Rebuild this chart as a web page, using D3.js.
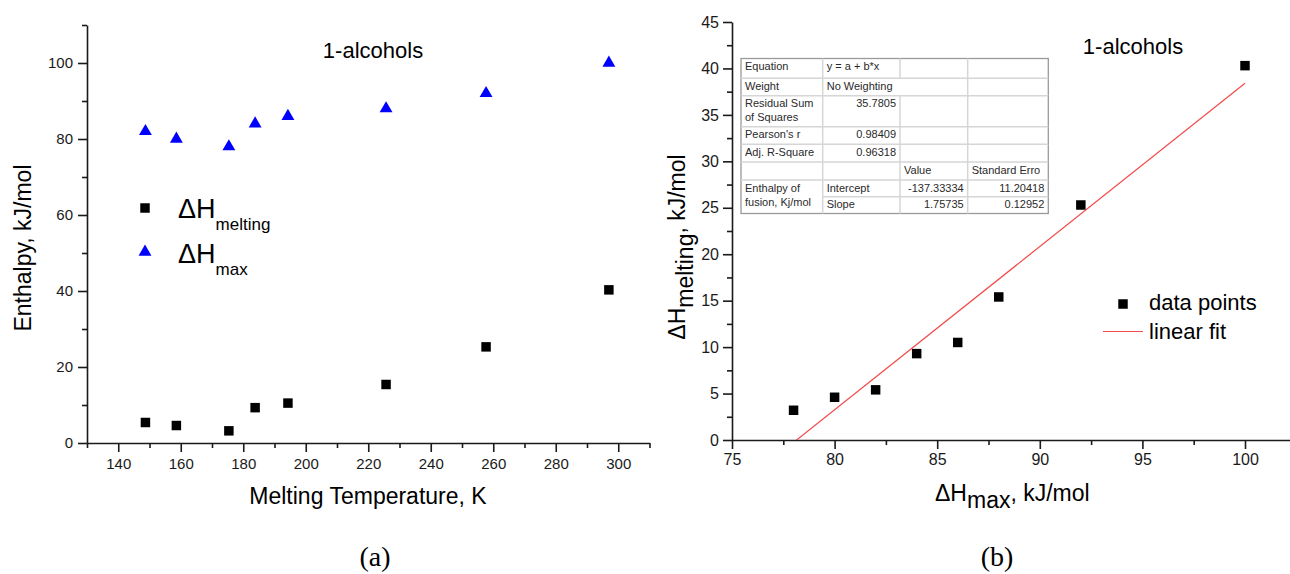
<!DOCTYPE html>
<html>
<head>
<meta charset="utf-8">
<script src="https://cdn.jsdelivr.net/npm/d3@7.9.0/dist/d3.min.js"></script>
<style>
  body { margin: 0; background: #fff; }
  svg { display: block; font-family: "Liberation Sans", Arial, sans-serif; }
</style>
</head>
<body>
<svg id="chart" width="1290" height="574"></svg>
<script>
// values
const meltingTemp = [148.7, 158.6, 175.4, 183.8, 194.3, 225.7, 257.7, 297.0];
const hMelting = [5.4, 4.6, 3.2, 9.3, 10.5, 15.4, 25.3, 40.3];
const hMax = [82, 80, 78, 84, 86, 88, 92, 100];

const leftXTicks = [140, 160, 180, 200, 220, 240, 260, 280, 300];
const leftXMinor = [130, 150, 170, 190, 210, 230, 250, 270, 290, 310];
const leftYTicks = [0, 20, 40, 60, 80, 100];
const leftYMinor = [10, 30, 50, 70, 90, 110];

const rightXTicks = [75, 80, 85, 90, 95, 100];
const rightXMinor = [77.5, 82.5, 87.5, 92.5, 97.5];
const rightYTicks = [0, 5, 10, 15, 20, 25, 30, 35, 40, 45];
const rightYMinor = [2.5, 7.5, 12.5, 17.5, 22.5, 27.5, 32.5, 37.5, 42.5];

const fitIntercept = -137.33334;
const fitSlope = 1.75735;

const tableRows = [
  ['Equation', 'y = a + b*x', '', ''],
  ['Weight', 'No Weighting', '', ''],
  ['Residual Sum\nof Squares', '35.7805', '', ''],
  ["Pearson's r", '0.98409', '', ''],
  ['Adj. R-Square', '0.96318', '', ''],
  ['', '', 'Value', 'Standard Erro'],
  ['Enthalpy of\nfusion, Kj/mol', 'Intercept', '-137.33334', '11.20418'],
  ['', 'Slope', '1.75735', '0.12952']
];

const svg = d3.select('#chart');

function drawAxes(g, x, y, xt, xm, yt, ym, fontSize, padX, padY) {
  const y0 = y.range()[0];
  const x0 = x.range()[0];
  g.append('g').attr('transform', `translate(0,${y0})`)
    .call(d3.axisBottom(x).tickValues(xt).tickSize(9).tickSizeOuter(0).tickPadding(padX));
  g.append('g').attr('transform', `translate(0,${y0})`)
    .call(d3.axisBottom(x).tickValues(xm).tickSize(5).tickSizeOuter(0).tickFormat(''))
    .select('.domain').remove();
  g.append('g').attr('transform', `translate(${x0},0)`)
    .call(d3.axisLeft(y).tickValues(yt).tickSize(9).tickSizeOuter(0).tickPadding(padY));
  g.append('g').attr('transform', `translate(${x0},0)`)
    .call(d3.axisLeft(y).tickValues(ym).tickSize(5).tickSizeOuter(0).tickFormat(''))
    .select('.domain').remove();
  g.selectAll('.domain, .tick line').attr('stroke', '#1a1a1a').attr('stroke-width', 1.6);
  g.selectAll('.tick text').attr('font-size', fontSize).attr('fill', '#1a1a1a')
    .attr('font-family', '"Liberation Sans", Arial, sans-serif');
}

// ---------- (a) ----------
const xA = d3.scaleLinear().domain([130, 310]).range([87, 649.5]);
const yA = d3.scaleLinear().domain([0, 110]).range([443, 25]);
const gA = svg.append('g');
drawAxes(gA, xA, yA, leftXTicks, leftXMinor, leftYTicks, leftYMinor, 15, 6, 5);

const square = d3.symbol(d3.symbolSquare, 90);
const triangle = d3.symbol(d3.symbolTriangle, 72);

gA.append('g').selectAll('path').data(meltingTemp).join('path')
  .attr('d', square)
  .attr('transform', (d, i) => `translate(${xA(d)},${yA(hMelting[i])})`)
  .attr('fill', '#000');
gA.append('g').selectAll('path').data(meltingTemp).join('path')
  .attr('d', triangle)
  .attr('transform', (d, i) => `translate(${xA(d)},${yA(hMax[i])})`)
  .attr('fill', '#0000ff');

gA.append('text').attr('x', 373).attr('y', 58).attr('text-anchor', 'middle')
  .attr('font-size', 22).text('1-alcohols');

// legend (a)
gA.append('path').attr('d', square).attr('transform', 'translate(145,208)');
const lgA1 = gA.append('text').attr('x', 178).attr('y', 218).attr('font-size', 27);
lgA1.append('tspan').text('ΔH');
lgA1.append('tspan').attr('font-size', 17).attr('dy', 12).text('melting');
gA.append('path').attr('d', triangle).attr('fill', '#0000ff').attr('transform', 'translate(145,252)');
const lgA2 = gA.append('text').attr('x', 178).attr('y', 263).attr('font-size', 27);
lgA2.append('tspan').text('ΔH');
lgA2.append('tspan').attr('font-size', 17).attr('dy', 12).text('max');

gA.append('text').attr('x', 368).attr('y', 504).attr('text-anchor', 'middle')
  .attr('font-size', 23).text('Melting Temperature, K');
gA.append('text').attr('transform', 'translate(31,248) rotate(-90)').attr('text-anchor', 'middle')
  .attr('font-size', 23).text('Enthalpy, kJ/mol');
gA.append('text').attr('x', 375).attr('y', 566).attr('text-anchor', 'middle')
  .attr('font-family', '"Liberation Serif", "Times New Roman", serif').attr('font-size', 28).text('(a)');

// ---------- (b) ----------
const xB = d3.scaleLinear().domain([75, 105]).range([732, 732 + 30 * 20.52]);
const yB = d3.scaleLinear().domain([0, 45]).range([440, 22]);
const gB = svg.append('g');
drawAxes(gB, xB, yB, rightXTicks, rightXMinor, rightYTicks, rightYMinor, 16, 5, 4);

svg.append('defs').append('clipPath').attr('id', 'clipB')
  .append('rect').attr('x', 732).attr('y', 22).attr('width', 600).attr('height', 418);

const fitX = [d3.min(hMax), d3.max(hMax)];
gB.append('path')
  .datum(fitX)
  .attr('clip-path', 'url(#clipB)')
  .attr('d', d3.line().x(d => xB(d)).y(d => yB(fitIntercept + fitSlope * d)))
  .attr('fill', 'none').attr('stroke', '#f24a4a').attr('stroke-width', 1.2);

gB.append('g').selectAll('path').data(hMax).join('path')
  .attr('d', square)
  .attr('transform', (d, i) => `translate(${xB(d)},${yB(hMelting[i])})`)
  .attr('fill', '#000');

gB.append('text').attr('x', 1133).attr('y', 54).attr('text-anchor', 'middle')
  .attr('font-size', 22).text('1-alcohols');

// fit table
const colX = [741, 822.7, 900, 967.7, 1048.3];
const rowY = [58.5, 78.3, 95.7, 126.7, 144.3, 162, 180, 196.7, 213.5];
const tbl = gB.append('g');
tbl.append('rect').attr('x', colX[0]).attr('y', rowY[0])
  .attr('width', colX[4] - colX[0]).attr('height', rowY[8] - rowY[0])
  .attr('fill', '#fff').attr('stroke', '#9a9a9a').attr('stroke-width', 1.3);
rowY.slice(1, -1).forEach((ry, i) => {
  tbl.append('line').attr('x1', i === 6 ? colX[1] : colX[0]).attr('x2', colX[4])
    .attr('y1', ry).attr('y2', ry).attr('stroke', '#d6d6d6').attr('stroke-width', 1.5);
});
colX.slice(1, -1).forEach((cx, c) => {
  tableRows.forEach((r, i) => {
    if (c === 1 && i === 1) return;
    tbl.append('line').attr('x1', cx).attr('x2', cx).attr('y1', rowY[i]).attr('y2', rowY[i + 1])
      .attr('stroke', '#d6d6d6').attr('stroke-width', 1.5);
  });
});
tableRows.forEach((r, i) => {
  r.forEach((cell, c) => {
    if (!cell) return;
    const numeric = /^-?[0-9.]+$/.test(cell);
    const t = tbl.append('text').attr('font-size', 11).attr('fill', '#2a2a2a')
      .attr('text-anchor', numeric ? 'end' : 'start');
    cell.split('\n').forEach((line, k) => {
      t.append('tspan').attr('x', numeric ? colX[c + 1] - 4 : colX[c] + 4)
        .attr('y', rowY[i] + 11.5 + k * 14).text(line);
    });
  });
});

// legend (b)
gB.append('path').attr('d', square).attr('transform', 'translate(1123,304)');
gB.append('text').attr('x', 1149).attr('y', 310).attr('font-size', 22).text('data points');
gB.append('line').attr('x1', 1103).attr('x2', 1143).attr('y1', 331.5).attr('y2', 331.5)
  .attr('stroke', '#f24a4a').attr('stroke-width', 1.2);
gB.append('text').attr('x', 1149).attr('y', 339).attr('font-size', 22).text('linear fit');

const xtB = gB.append('text').attr('x', 935).attr('y', 501).attr('font-size', 23);
xtB.append('tspan').text('ΔH');
xtB.append('tspan').attr('dy', 7).text('max');
xtB.append('tspan').attr('dy', -7).text(', kJ/mol');

const ytB = gB.append('text').attr('transform', 'translate(685,247) rotate(-90)')
  .attr('text-anchor', 'middle').attr('font-size', 23);
ytB.append('tspan').text('ΔH');
ytB.append('tspan').attr('dy', 8).text('melting');
ytB.append('tspan').attr('dy', -8).text(', kJ/mol');

gB.append('text').attr('x', 997).attr('y', 566).attr('text-anchor', 'middle')
  .attr('font-family', '"Liberation Serif", "Times New Roman", serif').attr('font-size', 28).text('(b)');
</script>
</body>
</html>
